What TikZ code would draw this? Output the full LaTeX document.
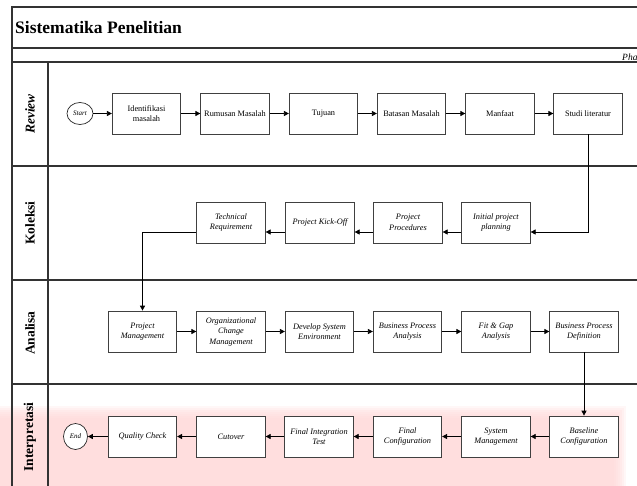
\documentclass[tikz,border=0pt]{standalone}
\usepackage{fontspec}
\setmainfont{Liberation Serif}
\usetikzlibrary{arrows.meta,shapes.geometric}

\begin{document}
\begin{tikzpicture}[x=1pt,y=-1pt,
  stepbox/.style={draw=black!75, line width=0.7pt, fill=white,
    minimum width=68.5pt, minimum height=41pt, inner sep=1pt, align=center,
    font=\fontsize{8.3}{10.5}\selectfont},
  itbox/.style={stepbox, font=\fontsize{8.3}{10.5}\selectfont\itshape},
  term/.style={draw=black!85, line width=0.7pt, fill=white, ellipse,
    inner sep=0pt, font=\fontsize{7}{8}\selectfont\itshape},
  flow/.style={-{Triangle[length=5pt,width=5pt]}, line width=0.7pt},
  lanelabel/.style={rotate=90, font=\fontsize{13.5}{15}\selectfont\bfseries},
  frameline/.style={draw=black!80, line width=1.1pt},
  haze/.style={fill=pink!70!red!35, opacity=0.2}]

\useasboundingbox (0,0) rectangle (637,485);
\clip (0,0) rectangle (637,485);

% soft pink patch behind the last lane
\foreach \d in {0,2,...,12}{
  \fill[haze] (-20-\d,418-\d) rectangle (614+\d,520+\d);
}

% pool frame, header rows and lane dividers
\draw[frameline] (12,7) rectangle (660,520);
\draw[frameline] (12,48) -- (660,48);
\draw[frameline] (12,62) -- (660,62);
\draw[frameline] (12,166) -- (660,166);
\draw[frameline] (12,280) -- (660,280);
\draw[frameline] (12,384) -- (660,384);
\draw[frameline] (48,62) -- (48,520);

\node[anchor=base west, inner sep=0pt, font=\fontsize{17.5}{20}\selectfont\bfseries]
  (title) at (15,33) {Sistematika Penelitian};
\node[anchor=base west, inner sep=0pt, font=\fontsize{9.5}{11}\selectfont\itshape]
  (phase) at (622,60) {Phase};

% lane labels
\node[lanelabel, font=\fontsize{13.5}{15}\selectfont\bfseries\itshape] (lreview) at (30,114) {Review};
\node[lanelabel] (lkoleksi) at (30,223) {Koleksi};
\node[lanelabel] (lanalisa) at (30,333) {Analisa};
\node[lanelabel] (linterp) at (30,437) {Interpretasi};

% Review
\node[term, minimum width=26pt, minimum height=22pt] (start) at (80,113.5) {Start};
\node[stepbox] (idm) at (146.5,113.5) {Identifikasi\\masalah};
\node[stepbox] (rm) at (235,113.5) {Rumusan Masalah};
\node[stepbox] (tj) at (323.5,113.5) {Tujuan};
\node[stepbox] (bm) at (411.5,113.5) {Batasan Masalah};
\node[stepbox] (mf) at (500,113.5) {Manfaat};
\node[stepbox] (sl) at (588,113.5) {Studi literatur};

% Koleksi
\node[itbox] (ip) at (496,222.5) {Initial project\\planning};
\node[itbox] (pp) at (408,222.5) {Project\\Procedures};
\node[itbox] (pk) at (320,222.5) {Project Kick-Off};
\node[itbox] (tr) at (231,222.5) {Technical\\Requirement};

% Analisa
\node[itbox] (pm) at (142.5,331.5) {Project\\Management};
\node[itbox] (ocm) at (231,331.5) {Organizational\\Change\\Management};
\node[itbox] (dse) at (319.5,331.5) {Develop System\\Environment};
\node[itbox] (bpa) at (407.5,331.5) {Business Process\\Analysis};
\node[itbox] (fg) at (496,331.5) {Fit \& Gap\\Analysis};
\node[itbox] (bpd) at (584,331.5) {Business Process\\Definition};

% Interpretasi
\node[itbox] (bc) at (584,436.5) {Baseline\\Configuration};
\node[itbox] (sm) at (496,436.5) {System\\Management};
\node[itbox] (fc) at (407.5,436.5) {Final\\Configuration};
\node[itbox] (fit) at (319,436.5) {Final Integration\\Test};
\node[itbox] (co) at (231,436.5) {Cutover};
\node[itbox] (qc) at (142.5,436.5) {Quality Check};
\node[term, minimum width=24pt, minimum height=26pt] (end) at (75.5,436.5) {End};

% connectors
\draw[flow] (start) -- (idm);
\draw[flow] (idm) -- (rm);
\draw[flow] (rm) -- (tj);
\draw[flow] (tj) -- (bm);
\draw[flow] (bm) -- (mf);
\draw[flow] (mf) -- (sl);
\draw[flow] (sl.south) |- ([yshift=-9.5pt]ip.east);
\draw[flow] ([yshift=-9.5pt]ip.west) -- ([yshift=-9.5pt]pp.east);
\draw[flow] ([yshift=-9.5pt]pp.west) -- ([yshift=-9.5pt]pk.east);
\draw[flow] ([yshift=-9.5pt]pk.west) -- ([yshift=-9.5pt]tr.east);
\draw[flow] ([yshift=-9.5pt]tr.west) -| (pm.north);
\draw[flow] (pm) -- (ocm);
\draw[flow] (ocm) -- (dse);
\draw[flow] (dse) -- (bpa);
\draw[flow] (bpa) -- (fg);
\draw[flow] (fg) -- (bpd);
\draw[flow] (bpd) -- (bc);
\draw[flow] (bc) -- (sm);
\draw[flow] (sm) -- (fc);
\draw[flow] (fc) -- (fit);
\draw[flow] (fit) -- (co);
\draw[flow] (co) -- (qc);
\draw[flow] (qc) -- (end);
\end{tikzpicture}
\end{document}
